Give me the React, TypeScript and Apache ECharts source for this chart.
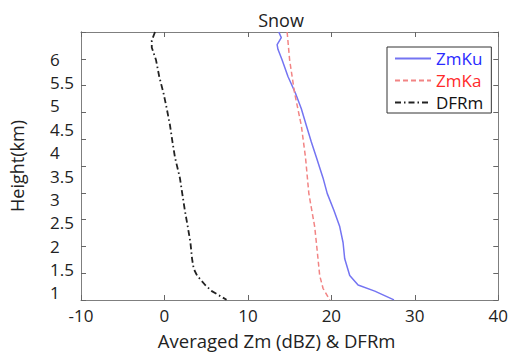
import React, { useEffect, useRef } from "react";
import * as echarts from "echarts";

// Heights (km) and averaged values
const kuHeight = [6.58, 6.46, 6.31, 6.21, 5.98, 5.63, 5.27, 4.94, 4.58, 4.23, 3.9, 3.46, 3.13, 2.77, 2.42, 2.08, 1.73, 1.375, 1.17, 1.04, 0.854];
const kuValue = [13.7, 14.0, 13.5, 13.6, 14.1, 14.8, 15.7, 16.4, 17.0, 17.6, 18.2, 19.0, 19.5, 20.3, 21.0, 21.4, 21.6, 22.2, 23.2, 25.2, 27.5];

const kaHeight = [6.58, 5.98, 5.27, 4.58, 3.9, 3.13, 2.77, 2.42, 2.08, 1.73, 1.375, 1.1, 0.854];
const kaValue = [14.7, 15.0, 15.6, 16.4, 16.9, 17.3, 17.65, 18.0, 18.2, 18.4, 18.6, 19.0, 19.8];

const dfrHeight = [6.58, 6.4, 6.25, 5.98, 5.63, 5.27, 4.94, 4.58, 4.23, 3.9, 3.46, 3.13, 2.77, 2.42, 2.08, 1.73, 1.52, 1.375, 1.17, 1.04, 0.854];
const dfrValue = [-1.13, -1.52, -1.52, -1.01, -0.63, -0.11, 0.28, 0.67, 0.96, 1.26, 1.85, 2.13, 2.44, 2.79, 3.11, 3.31, 3.5, 3.9, 4.88, 5.67, 7.44];

const yLabels = [1, 1.5, 2, 2.5, 3, 3.5, 4, 4.5, 5, 5.5, 6];
const xTicks = [-10, 0, 10, 20, 30, 40];

const FONT = "Open Sans";
const TEXT = "#222";

function pairs(xs: number[], ys: number[]) {
  return xs.map((v, i) => [v, ys[i]]);
}

export default function App() {
  const ref = useRef<HTMLDivElement>(null);
  useEffect(() => {
    if (!ref.current) return;
    const chart = echarts.init(ref.current, undefined, { renderer: "svg" });
    const tickCommon = {
      show: true,
      inside: true,
      length: 5,
      lineStyle: { color: "#666", width: 1 },
    };
    const hiddenLine = { show: true, onZero: false, lineStyle: { color: "#7f7f7f", width: 1 } };
    chart.setOption({
      animation: false,
      backgroundColor: "#fff",
      title: {
        text: "Snow",
        left: 276,
        textAlign: "center",
        top: 6,
        textStyle: { fontFamily: FONT, fontSize: 18, fontWeight: "normal", color: TEXT },
      },
      grid: {
        left: 79,
        right: 8,
        top: 32,
        bottom: 48,
        show: false,
      },
      legend: {
        orient: "vertical",
        left: 387,
        top: 47,
        padding: [3, 8, 2, 7],
        itemGap: 5,
        itemWidth: 36,
        itemHeight: 14,
        borderColor: "#333",
        borderWidth: 1,
        backgroundColor: "#fff",
        itemStyle: { opacity: 0 },
        textStyle: { fontFamily: FONT, fontSize: 17 },
        data: [
          { name: "ZmKu", textStyle: { color: "#2a2aff" } },
          { name: "ZmKa", textStyle: { color: "#ff2a2a" } },
          { name: "DFRm", textStyle: { color: "#111", padding: [3, 0, 0, 0] } },
        ],
      },
      xAxis: [
        {
          type: "value",
          min: -10,
          max: 40,
          interval: 10,
          position: "bottom",
          name: "Averaged Zm (dBZ) & DFRm",
          nameLocation: "middle",
          nameGap: 31,
          nameTextStyle: { fontFamily: FONT, fontSize: 18.5, color: TEXT, padding: [0, 26, 0, 0] },
          axisLine: hiddenLine,
          axisTick: tickCommon,
          splitLine: { show: false },
          axisLabel: { fontFamily: FONT, fontSize: 17, color: TEXT, margin: 7, customValues: xTicks },
        },
        {
          type: "value",
          min: -10,
          max: 40,
          interval: 10,
          position: "top",
          axisLine: hiddenLine,
          axisTick: tickCommon,
          splitLine: { show: false },
          axisLabel: { show: false },
        },
      ],
      yAxis: [
        {
          type: "value",
          min: 0.85,
          max: 6.58,
          position: "left",
          name: "Height(km)",
          nameLocation: "middle",
          nameGap: 47,
          nameTextStyle: { fontFamily: FONT, fontSize: 18, color: TEXT, padding: [0, 0, 8, 0] },
          axisLine: hiddenLine,
          axisTick: { show: false },
          splitLine: { show: false },
          axisLabel: {
            fontFamily: FONT,
            fontSize: 17,
            color: TEXT,
            align: "left",
            margin: 31,
            customValues: yLabels,
          },
        },
        {
          type: "value",
          min: 0,
          max: 10,
          interval: 1,
          position: "left",
          axisLine: hiddenLine,
          axisTick: tickCommon,
          splitLine: { show: false },
          axisLabel: { show: false },
        },
        {
          type: "value",
          min: 0,
          max: 10,
          interval: 1,
          position: "right",
          axisLine: hiddenLine,
          axisTick: tickCommon,
          splitLine: { show: false },
          axisLabel: { show: false },
        },
      ],
      series: [
        {
          name: "ZmKu",
          type: "line",
          data: pairs(kuValue, kuHeight),
          showSymbol: false,
          symbol: "none",
          color: "#3333ff",
          lineStyle: { color: "#7474f2", width: 1.5 },
        },
        {
          name: "ZmKa",
          type: "line",
          data: pairs(kaValue, kaHeight),
          showSymbol: false,
          symbol: "none",
          color: "#ff3333",
          lineStyle: { color: "#f28484", width: 1.5, type: [5, 3] },
        },
        {
          name: "DFRm",
          type: "line",
          data: pairs(dfrValue, dfrHeight),
          showSymbol: false,
          symbol: "none",
          color: "#111",
          lineStyle: { color: "#222", width: 1.8, type: [6, 3, 1.5, 3] },
        },
      ],
    });
    return () => chart.dispose();
  }, []);
  return (
    <div
      ref={ref}
      style={{ position: "fixed", left: 0, top: 0, width: 511, height: 355 }}
    />
  );
}
